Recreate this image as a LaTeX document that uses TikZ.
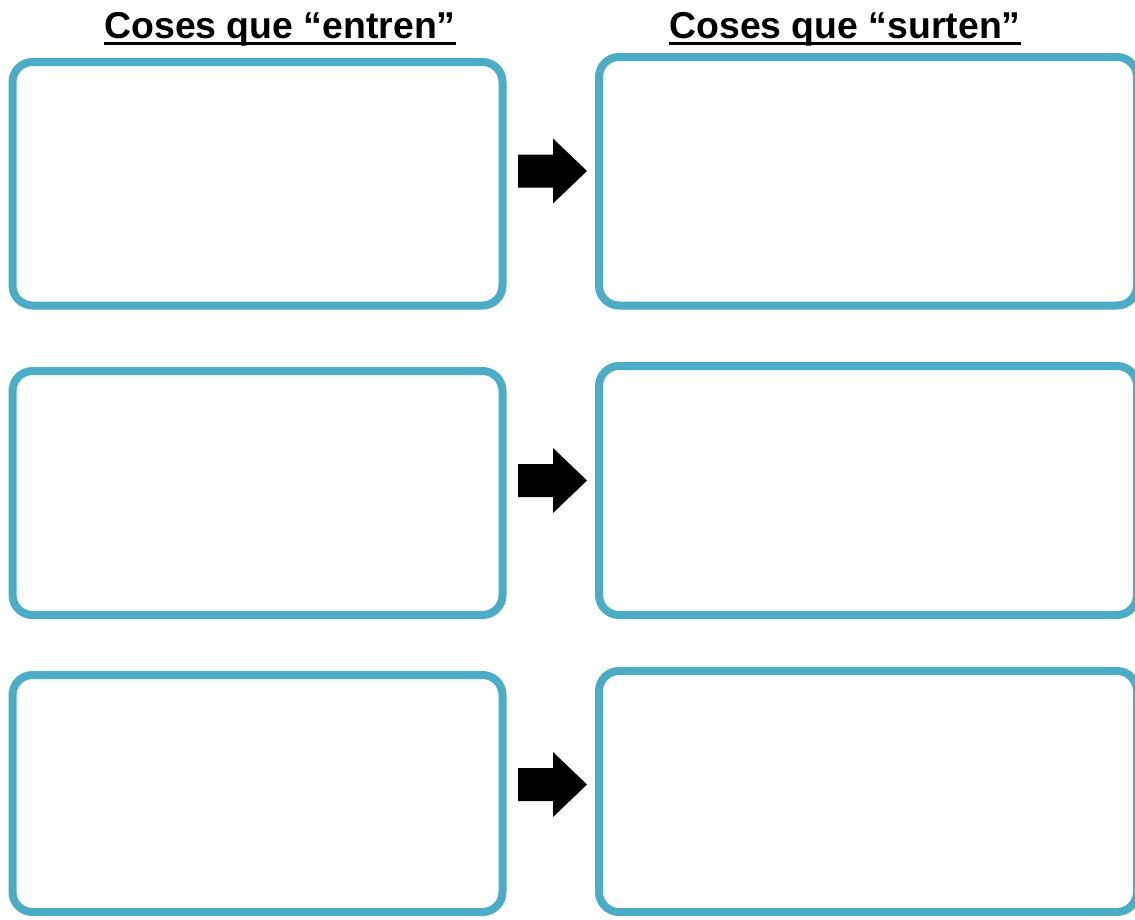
\documentclass[tikz,border=0pt]{standalone}
\usepackage{fontspec}
\setmainfont{Liberation Sans}
\definecolor{boxblue}{HTML}{4BACC6}
\begin{document}
\begin{tikzpicture}[x=1pt,y=-1pt,
  box/.style={draw=boxblue, line width=8pt, rounded corners=20pt, inner sep=0pt, outer sep=0pt, anchor=north west},
  title/.style={font=\fontsize{37.4}{40}\selectfont\bfseries, inner sep=0pt, anchor=base},
  uline/.style={line width=3pt},
  blockarrow/.style={fill=black, draw=none}]
\useasboundingbox (0,0) rectangle (1135,919);
% titles
\node[title] (t1) at (280,38) {Coses que “entren”};
\node[title] (t2) at (845,38) {Coses que “surten”};
\draw[uline] ([yshift=-5.5pt]t1.base west) -- ([yshift=-5.5pt]t1.base east);
\draw[uline] ([yshift=-5.5pt]t2.base west) -- ([yshift=-5.5pt]t2.base east);
% boxes
\node[box, minimum width=490pt, minimum height=243.5pt] (l1) at (12.5,62) {};
\node[box, minimum width=538pt, minimum height=248.5pt] (r1) at (599,57) {};
\node[box, minimum width=490pt, minimum height=244pt] (l2) at (12.5,371) {};
\node[box, minimum width=538pt, minimum height=249pt] (r2) at (599,366) {};
\node[box, minimum width=490pt, minimum height=237pt] (l3) at (12.5,675) {};
\node[box, minimum width=538pt, minimum height=241pt] (r3) at (599,671) {};
% block arrows
\foreach \c in {171,480.5,784.5}{
  \fill[blockarrow] (518,\c-16.5) -- (553,\c-16.5) -- (553,\c-32.5) -- (587,\c)
     -- (553,\c+32.5) -- (553,\c+16.5) -- (518,\c+16.5) -- cycle;
}
\end{tikzpicture}
\end{document}
